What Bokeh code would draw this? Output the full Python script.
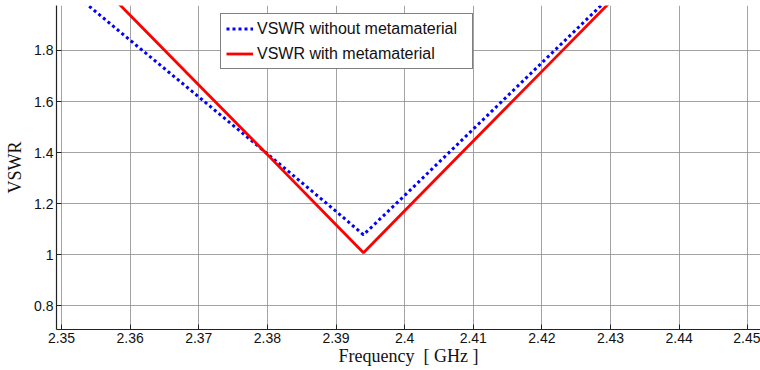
from bokeh.plotting import figure
from bokeh.models import FixedTicker, Range1d, Legend, LegendItem
from bokeh.embed import file_html
from bokeh.resources import INLINE

# Data
freq_without = [2.350, 2.360, 2.370, 2.380, 2.390, 2.394, 2.400, 2.410, 2.420, 2.430]
vswr_without = [2.063, 1.840, 1.618, 1.395, 1.170, 1.078, 1.232, 1.492, 1.752, 2.012]

freq_with = [2.350, 2.360, 2.370, 2.380, 2.390, 2.394, 2.400, 2.410, 2.420, 2.430]
vswr_with = [2.210, 1.938, 1.665, 1.392, 1.117, 1.008, 1.172, 1.445, 1.718, 1.991]

x_ticks = [2.35, 2.36, 2.37, 2.38, 2.39, 2.40, 2.41, 2.42, 2.43, 2.44, 2.45]
x_tick_labels = ["2.35", "2.36", "2.37", "2.38", "2.39", "2.4", "2.41", "2.42", "2.43", "2.44", "2.45"]
y_ticks = [0.8, 1.0, 1.2, 1.4, 1.6, 1.8]
y_tick_labels = ["0.8", "1", "1.2", "1.4", "1.6", "1.8"]

p = figure(width=760, height=370, output_backend="svg", toolbar_location=None,
           x_range=Range1d(2.34927, 2.45185), y_range=Range1d(0.707, 1.976),
           min_border_left=56, min_border_right=0, min_border_top=5, min_border_bottom=41)
p.outline_line_color = None
p.background_fill_color = "white"
p.border_fill_color = "white"

r1 = p.line(freq_without, vswr_without, line_color="#0000ff", line_width=3, line_dash="3 3")
r2 = p.line(freq_with, vswr_with, line_color="#ff0000", line_width=2.8)

for ax in (p.xaxis[0], p.yaxis[0]):
    ax.axis_line_color = "#222222"
    ax.axis_line_width = 1.2
    ax.major_tick_in = 5
    ax.major_tick_out = 0
    ax.minor_tick_in = 0
    ax.minor_tick_out = 0
    ax.major_tick_line_color = "#222222"
    ax.major_label_text_font = "Liberation Sans"
    ax.major_label_text_font_size = "14px"
    ax.major_label_text_color = "#111111"
    ax.axis_label_text_font = "Liberation Serif"
    ax.axis_label_text_font_style = "normal"
    ax.axis_label_text_color = "#111111"

p.xaxis.ticker = FixedTicker(ticks=x_ticks)
p.xaxis.major_label_overrides = {t: s for t, s in zip(x_ticks, x_tick_labels)}
p.yaxis.ticker = FixedTicker(ticks=y_ticks)
p.yaxis.major_label_overrides = {t: s for t, s in zip(y_ticks, y_tick_labels)}

p.xaxis.axis_label = "Frequency\u00a0 [ GHz ]"
p.xaxis.axis_label_text_font_size = "18px"
p.xaxis.major_label_standoff = 3
p.xaxis.axis_label_standoff = 0
p.yaxis.axis_label = "VSWR"
p.yaxis.axis_label_text_font_size = "18px"
p.yaxis.major_label_standoff = 3
p.yaxis.axis_label_standoff = 6

p.xgrid.ticker = FixedTicker(ticks=x_ticks)
p.ygrid.ticker = FixedTicker(ticks=y_ticks)
for g in (p.xgrid[0], p.ygrid[0]):
    g.grid_line_color = "#8c8c8c"
    g.grid_line_width = 1
    g.grid_line_alpha = 0.8

legend = Legend(items=[LegendItem(label="VSWR without metamaterial", renderers=[r1]),
                       LegendItem(label="VSWR with metamaterial", renderers=[r2])],
                location=(164, 260))
legend.label_text_font = "Liberation Sans"
legend.label_text_font_size = "16px"
legend.label_text_color = "#111111"
legend.border_line_color = "black"
legend.border_line_width = 1
legend.background_fill_alpha = 1
legend.glyph_width = 27
legend.glyph_height = 19
legend.label_height = 19
legend.label_width = 210
legend.spacing = 6
legend.padding = 5
legend.margin = 0
legend.label_standoff = 4
p.add_layout(legend, "center")

open("out.html", "w").write(file_html(p, INLINE))
